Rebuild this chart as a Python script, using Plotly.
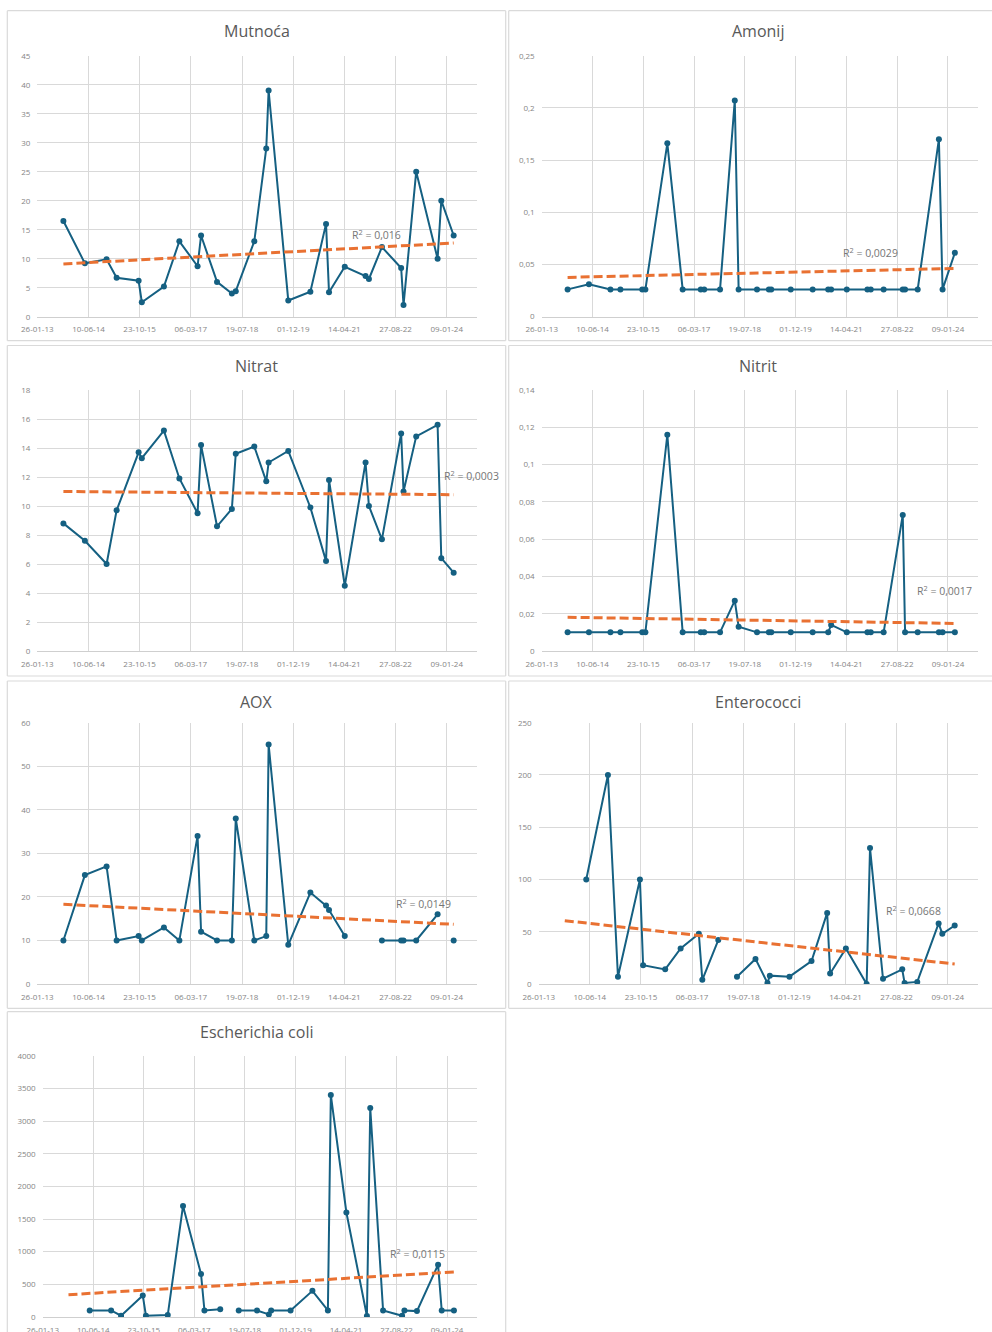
import numpy as np
import pandas as pd
import plotly.graph_objects as go

W, H = 992, 1332

# Sampling dates shared by all parameters
SAMPLE_DATES = [
    "2013-10-08", "2014-05-06", "2014-12-04", "2015-03-12", "2015-10-13",
    "2015-11-13", "2016-06-16", "2016-11-14", "2017-05-11", "2017-06-14",
    "2017-11-17", "2018-04-11", "2018-05-19", "2018-11-16", "2019-03-13",
    "2019-04-05", "2019-10-14", "2020-05-17", "2020-10-17", "2020-11-15",
    "2021-04-18", "2021-11-07", "2021-12-10", "2022-04-16", "2022-10-21",
    "2022-11-13", "2023-03-17", "2023-10-12", "2023-11-17", "2024-03-17",
]

MUTNOCA = [16.5, 9.2, 9.9, 6.7, 6.2, 2.5, 5.2, 13.0, 8.7, 14.0,
           6.0, 4.0, 4.4, 13.0, 29.0, 39.0, 2.8, 4.3, 16.0, 4.2,
           8.6, 7.0, 6.5, 12.0, 8.4, 2.0, 25.0, 10.0, 20.0, 14.0]

AMONIJ = [0.026, 0.031, 0.026, 0.026, 0.026, 0.026, 0.166, 0.026, 0.026, 0.026,
          0.026, 0.207, 0.026, 0.026, 0.026, 0.026, 0.026, 0.026, 0.026, 0.026,
          0.026, 0.026, 0.026, 0.026, 0.026, 0.026, 0.026, 0.170, 0.026, 0.061]

NITRAT = [8.8, 7.6, 6.0, 9.7, 13.7, 13.3, 15.2, 11.9, 9.5, 14.2,
          8.6, 9.8, 13.6, 14.1, 11.7, 13.0, 13.8, 9.9, 6.2, 11.8,
          4.5, 13.0, 10.0, 7.7, 15.0, 11.0, 14.8, 15.6, 6.4, 5.4]

NITRIT = [0.010, 0.010, 0.010, 0.010, 0.010, 0.010, 0.116, 0.010, 0.010, 0.010,
          0.010, 0.027, 0.013, 0.010, 0.010, 0.010, 0.010, 0.010, 0.010, 0.014,
          0.010, 0.010, 0.010, 0.010, 0.073, 0.010, 0.010, 0.010, 0.010, 0.010]

AOX = [10, 25, 27, 10, 11, 10, 13, 10, 34, 12,
       10, 10, 38, 10, 11, 55, 9, 21, 18, 17,
       11, None, None, 10, 10, 10, 10, 16, None, 10]

ENTEROCOCCI = [None, 100, 200, 7, 100, 18, 14, 34, 48, 4,
               42, None, 7, 24, 1, 8, 7, 22, 68, 10,
               34, 0, 130, 5, 14, 1, 2, 58, 48, 56]

E_COLI = [None, 100, 100, 20, 330, 20, 30, 1700, 660, 100,
          120, None, 100, 100, 40, 100, 100, 400, 100, 3400,
          1600, 15, 3200, 100, 20, 100, 90, 800, 100, 100]

# Linear trend line values at the first and last sampling date
TREND_START = [9.1, 0.0375, 11.0, 0.0181, 18.3, 60.6, 342]
TREND_END = [12.7, 0.0461, 10.78, 0.0148, 13.7, 19.1, 689]

TITLES = ["Mutnoća", "Amonij", "Nitrat", "Nitrit", "AOX", "Enterococci", "Escherichia coli"]
SERIES = [MUTNOCA, AMONIJ, NITRAT, NITRIT, AOX, ENTEROCOCCI, E_COLI]
R2_TEXT = ["0,016", "0,0029", "0,0003", "0,0017", "0,0149", "0,0668", "0,0115"]
Y_MAX = [45, 0.25, 18, 0.14, 60, 250, 4000]
Y_STEP = [5, 0.05, 2, 0.02, 10, 50, 500]

# Date axis ticks every 500 days
TICK_DATES = ["2013-01-26", "2014-06-10", "2015-10-23", "2017-03-06", "2018-07-19",
              "2019-12-01", "2021-04-14", "2022-08-27", "2024-01-09"]
X_START, X_END = "2013-01-26", "2024-10-28"

# Layout in pixels: plot areas (left, right, top, bottom)
PLOT_BOXES = [
    (37.3, 476.7, 55.7, 316.7),
    (541.7, 977.7, 55.7, 316.5),
    (37.3, 476.7, 390.0, 651.0),
    (541.7, 977.7, 390.0, 651.0),
    (37.3, 476.7, 722.7, 984.0),
    (538.7, 977.7, 722.7, 984.0),
    (42.7, 476.7, 1055.7, 1317.0),
]
# Panel frames (left, right, top, bottom); None = edge runs off the page
FRAMES = [
    (7.3, 505.7, 10.7, 340.7),
    (508.7, None, 10.7, 340.7),
    (7.3, 505.7, 345.5, 676.0),
    (508.7, None, 345.5, 676.0),
    (7.3, 505.7, 681.0, 1008.3),
    (508.7, None, 681.0, 1008.3),
    (7.3, 505.7, 1011.7, None),
]
TITLE_X = [256.5, 757.7, 256.5, 757.7, 256.5, 757.7, 256.5]
# R² label anchors (date, value)
R2_POS = [
    ("2022-02-21", 14.25), ("2021-12-11", 0.061), ("2024-09-03", 12.1),
    ("2023-12-07", 0.0327), ("2023-05-26", 18.4), ("2023-02-07", 70),
    ("2023-03-25", 969),
]

SERIES_COLOR = "#156082"
TREND_COLOR = "#E97132"
GRID = "#d9d9d9"
FRAME = "#dadada"
TICK_FONT = dict(family="Open Sans", size=8, color="#858585")
TITLE_FONT = dict(family="Open Sans", size=16, color="#595959")
R2_FONT = dict(family="Open Sans", size=10.5, color="#767676")


def px_x(v):
    return v / W


def px_y(v):
    return 1 - v / H


def fmt_tick(v):
    s = f"{v:.4f}".rstrip("0").rstrip(".")
    return s.replace(".", ",")


def frame_lines(left, right, top, bottom):
    r = W if right is None else right
    b = H if bottom is None else bottom
    segs = [(left, top, r, top), (left, top, left, b)]
    if right is not None:
        segs.append((right, top, right, b))
    if bottom is not None:
        segs.append((left, bottom, r, bottom))
    return [dict(type="line", xref="paper", yref="paper",
                 x0=px_x(x0), x1=px_x(x1), y0=px_y(y0), y1=px_y(y1),
                 line=dict(color=FRAME, width=1.2), layer="below")
            for x0, y0, x1, y1 in segs]


dates = pd.to_datetime(SAMPLE_DATES)

fig = go.Figure()
layout = {}
shapes = []
annotations = []

for i, (title, vals) in enumerate(zip(TITLES, SERIES)):
    n = i + 1
    xref = "x" if n == 1 else f"x{n}"
    yref = "y" if n == 1 else f"y{n}"
    xkey = "xaxis" if n == 1 else f"xaxis{n}"
    ykey = "yaxis" if n == 1 else f"yaxis{n}"

    y = [np.nan if v is None else v for v in vals]

    fig.add_trace(go.Scatter(
        x=dates, y=y, mode="lines+markers", xaxis=xref, yaxis=yref,
        line=dict(color=SERIES_COLOR, width=2),
        marker=dict(size=6, color=SERIES_COLOR),
        connectgaps=False, showlegend=False, hoverinfo="skip",
    ))

    fig.add_trace(go.Scatter(
        x=[dates[0], dates[-1]], y=[TREND_START[i], TREND_END[i]],
        mode="lines", xaxis=xref, yaxis=yref,
        line=dict(color=TREND_COLOR, width=3, dash="9px,4px"),
        showlegend=False, hoverinfo="skip",
    ))

    left, right, top, bottom = PLOT_BOXES[i]
    yticks = list(np.round(np.arange(0, Y_MAX[i] + Y_STEP[i] / 2, Y_STEP[i]), 6))
    layout[xkey] = dict(
        domain=[px_x(left), px_x(right)], anchor=yref, type="date",
        range=[X_START, X_END], tickmode="array", tickvals=TICK_DATES,
        tickformat="%d-%m-%y", showgrid=True, gridcolor=GRID, gridwidth=1,
        showline=True, linecolor="#cfcfcf", linewidth=1, zeroline=False,
        ticks="", tickfont=TICK_FONT, ticklabelstandoff=5, fixedrange=True,
        automargin=False,
    )
    layout[ykey] = dict(
        domain=[px_y(bottom), px_y(top)], anchor=xref,
        range=[0, Y_MAX[i]], tickmode="array", tickvals=yticks,
        ticktext=[fmt_tick(v) for v in yticks],
        showgrid=True, gridcolor=GRID, gridwidth=1, zeroline=False,
        showline=False, ticks="", tickfont=TICK_FONT, ticklabelstandoff=6,
        fixedrange=True, automargin=False,
    )

    fl, fr, ft, fb = FRAMES[i]
    shapes.extend(frame_lines(fl, fr, ft, fb))

    annotations.append(dict(
        text=title, xref="paper", yref="paper",
        x=px_x(TITLE_X[i]), y=px_y(ft + 20.5), xanchor="center", yanchor="middle",
        showarrow=False, font=TITLE_FONT,
    ))

    rx, ry = R2_POS[i]
    annotations.append(dict(
        text=f"R<sup>2</sup> = {R2_TEXT[i]}", xref=xref, yref=yref,
        x=rx, y=ry, xanchor="center", yanchor="middle", showarrow=False,
        font=R2_FONT,
    ))

fig.update_layout(
    width=W, height=H, margin=dict(l=0, r=0, t=0, b=0, autoexpand=False),
    paper_bgcolor="white", plot_bgcolor="white",
    shapes=shapes, annotations=annotations, showlegend=False,
    **layout,
)

fig.write_html(
    "out.html",
    config={"displayModeBar": False},
    post_script="document.body.style.margin='0';document.body.style.overflow='hidden';",
)
